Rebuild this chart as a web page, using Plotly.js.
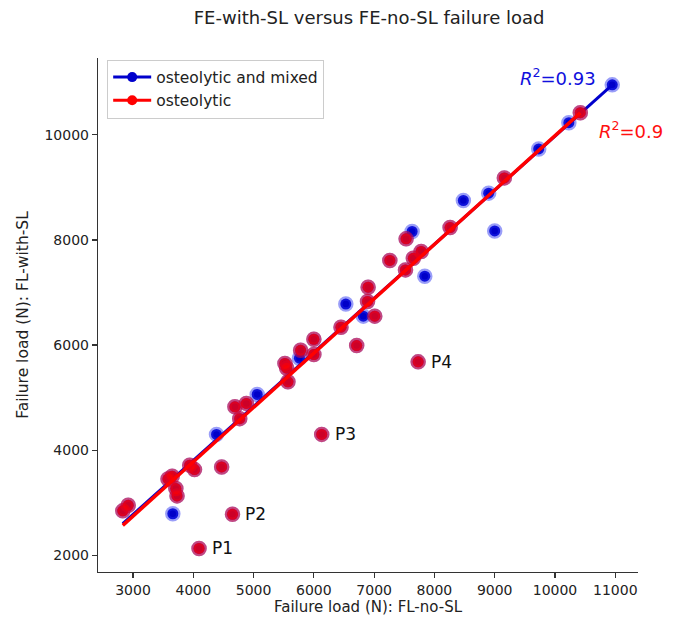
<!DOCTYPE html>
<html>
<head>
<meta charset="utf-8">
<script src="https://cdn.plot.ly/plotly-3.0.1.min.js"></script>
<style>html,body{margin:0;padding:0;background:#fff;}#chart{width:681px;height:622px;}</style>
</head>
<body>
<div id="chart"></div>
<script>
// Mixed-lesion cases (only in "osteolytic and mixed")
const mixedNoSL   = [10950, 10230, 9730, 8900, 8480, 9000, 7630, 7840, 6530, 6820, 5760, 5060, 4385, 3660];
const mixedWithSL = [10950, 10230, 9730, 8890, 8750, 8170, 8160, 7310, 6780, 6550, 5750, 5060, 4300, 2790];

// Osteolytic cases
const lyticNoSL   = [10420, 9160, 8260, 7530, 7780, 7650, 7260, 7520, 6900, 6890, 7010, 6450, 6000, 6710, 5780, 6000, 5520, 5550, 5570, 7730, 6130, 4690, 4880, 4770, 3940, 4020, 4470, 3580, 3650, 3710, 3730, 2830, 2920, 4650, 4095];
const lyticWithSL = [10420, 9180, 8235, 8020, 7780, 7650, 7610, 7430, 7100, 6830, 6550, 6340, 6110, 5990, 5900, 5820, 5650, 5560, 5300, 5680, 4300, 4825, 4890, 4600, 3715, 3630, 3680, 3450, 3505, 3270, 3130, 2845, 2950, 2780, 2130];
const lyticLabels = ['', '', '', '', '', '', '', '', '', '', '', '', '', '', '', '', '', '', '', 'P4', 'P3', '', '', '', '', '', '', '', '', '', '', '', '', 'P2', 'P1'];

const seriesNames = ['osteolytic and mixed', 'osteolytic'];
// Linear fits: [slope, intercept]
const fitAllCoef   = [1.028, -307];
const fitLyticCoef = [1.034, -357];
const r2Texts = ['<i>R</i><sup>2</sup>=0.93', '<i>R</i><sup>2</sup>=0.9'];
const xTicks = [3000, 4000, 5000, 6000, 7000, 8000, 9000, 10000, 11000];
const yTicks = [2000, 4000, 6000, 8000, 10000];

const allNoSL = mixedNoSL.concat(lyticNoSL);
const allWithSL = mixedWithSL.concat(lyticWithSL);

function fitLine(x, coef) {
  const x0 = Math.min(...x), x1 = Math.max(...x);
  return {x: [x0, x1], y: [coef[1] + coef[0] * x0, coef[1] + coef[0] * x1]};
}
const fitAll = fitLine(allNoSL, fitAllCoef);
const fitLytic = fitLine(lyticNoSL, fitLyticCoef);

const BLUE = '#0000cc', RED = '#ff0000';
const traces = [
  {x: allNoSL, y: allWithSL, mode: 'markers', type: 'scatter', showlegend: false,
   marker: {size: 11, color: 'rgb(0,0,200)', line: {width: 4.5, color: 'rgba(30,40,240,0.45)'}}},
  {x: fitAll.x, y: fitAll.y, mode: 'lines', type: 'scatter', showlegend: false,
   line: {color: BLUE, width: 3}},
  {x: lyticNoSL, y: lyticWithSL, mode: 'markers', type: 'scatter', showlegend: false,
   marker: {size: 11, color: 'rgba(255,0,0,0.8)', line: {width: 4.5, color: 'rgba(230,0,30,0.55)'}}},
  {x: fitLytic.x, y: fitLytic.y, mode: 'lines', type: 'scatter', showlegend: false,
   line: {color: RED, width: 3.5}},
  {x: [null], y: [null], mode: 'lines+markers', type: 'scatter', name: seriesNames[0],
   line: {color: BLUE, width: 3}, marker: {color: BLUE, size: 10}},
  {x: [null], y: [null], mode: 'lines+markers', type: 'scatter', name: seriesNames[1],
   line: {color: RED, width: 3}, marker: {color: RED, size: 10}}
];

const annotations = [];
lyticLabels.forEach((t, i) => {
  if (t) annotations.push({x: lyticNoSL[i], y: lyticWithSL[i], text: t, showarrow: false,
    xanchor: 'left', yanchor: 'middle', xshift: 11, font: {size: 17, color: '#111'}});
});
annotations.push({x: 9385, y: 11105, text: r2Texts[0], showarrow: false, xanchor: 'left', yanchor: 'middle',
  font: {size: 18, color: '#1010dd'}});
annotations.push({x: 10696, y: 10095, text: r2Texts[1], showarrow: false, xanchor: 'left', yanchor: 'middle',
  font: {size: 18, color: '#ff1010'}});

const axisCommon = {showgrid: false, zeroline: false, showline: true, linecolor: '#333', linewidth: 1.2,
  ticks: 'outside', ticklen: 5, tickwidth: 1.2, tickcolor: '#333', tickfont: {size: 14, color: '#222'}, mirror: false};

const layout = {
  width: 681, height: 622,
  margin: {l: 98, r: 43, t: 58, b: 50},
  paper_bgcolor: '#fff', plot_bgcolor: '#fff',
  font: {family: 'DejaVu Sans, sans-serif', color: '#222'},
  title: {text: 'FE-with-SL versus FE-no-SL failure load', font: {size: 18, color: '#222'}, x: 0.542, xanchor: 'center', y: 0.971, yanchor: 'middle'},
  xaxis: Object.assign({}, axisCommon, {range: [2419, 11377], tickvals: xTicks, ticktext: xTicks.map(String),
    title: {text: 'Failure load (N): FL-no-SL', font: {size: 15, color: '#222'}, standoff: 3}}),
  yaxis: Object.assign({}, axisCommon, {range: [1682, 11461], tickvals: yTicks, ticktext: yTicks.map(String),
    title: {text: 'Failure load (N): FL-with-SL', font: {size: 15.5, color: '#222'}, standoff: 12}}),
  legend: {x: 0.017, y: 0.997, xanchor: 'left', yanchor: 'top', bgcolor: 'rgba(255,255,255,0.9)',
    bordercolor: '#cccccc', borderwidth: 1, font: {size: 15.5, color: '#222'}, itemwidth: 38, tracegroupgap: 0},
  annotations: annotations,
  showlegend: true
};

Plotly.newPlot('chart', traces, layout, {displayModeBar: false, staticPlot: true});
</script>
</body>
</html>
